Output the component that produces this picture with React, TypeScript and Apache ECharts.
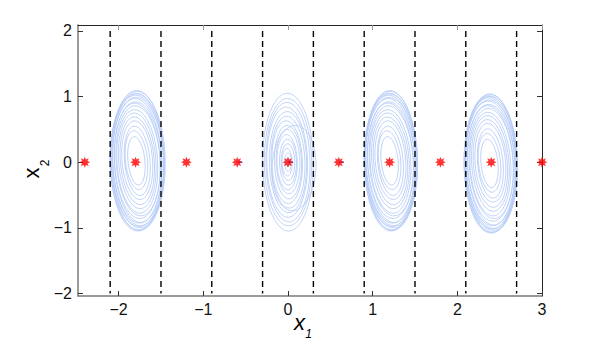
import React, { useEffect, useRef } from 'react';
import * as echarts from 'echarts';

// Axis ranges and ticks
const xRange = [-2.48, 3];
const yRange = [-2.04, 2.09];
const xTicks = [-2, -1, 0, 1, 2, 3];
const yTicks = [-2, -1, 0, 1, 2];

// Equilibrium points (red asterisks)
const equilibriaX = [-2.4, -1.8, -1.2, -0.6, 0, 0.6, 1.2, 1.8, 2.4, 3.0];
const equilibriaY = [0, 0, 0, 0, 0, 0, 0, 0, 0, 0];

// Dashed vertical boundaries
const boundariesX = [-2.1, -1.5, -0.9, -0.3, 0.3, 0.9, 1.5, 2.1, 2.7];
const boundarySpan = [2, -2];

// Trajectory loops: [centerX, centerY, radiusX, radiusY, tilt]
const loopsA = [
  [-1.79, 0.02, 0.10, 0.37, 0.10],
  [-1.79, 0.03, 0.13, 0.45, 0.10],
  [-1.78, 0.02, 0.15, 0.53, 0.09],
  [-1.78, 0.03, 0.18, 0.60, 0.08],
  [-1.78, 0.02, 0.20, 0.67, 0.08],
  [-1.78, 0.02, 0.22, 0.73, 0.07],
  [-1.78, 0.01, 0.24, 0.79, 0.06],
  [-1.77, 0.02, 0.26, 0.84, 0.06],
  [-1.78, 0.02, 0.27, 0.88, 0.05],
  [-1.77, 0.00, 0.28, 0.92, 0.05],
  [-1.78, 0.02, 0.29, 0.95, 0.04],
  [-1.77, 0.01, 0.30, 0.98, 0.04],
  [-1.78, 0.02, 0.31, 1.00, 0.03],
  [-1.77, 0.02, 0.31, 1.02, 0.03],
  [-1.78, 0.01, 0.32, 1.04, 0.02],
  [-1.77, 0.02, 0.32, 1.06, 0.02],
  [-1.78, 0.02, 0.32, 1.07, 0.01],
];
const loopsB = [
  [0.00, 0.00, 0.02, 0.07, 0.0],
  [0.00, 0.00, 0.04, 0.14, 0.0],
  [-0.01, 0.00, 0.06, 0.21, 0.02],
  [0.00, 0.00, 0.08, 0.28, 0.02],
  [0.00, 0.00, 0.10, 0.35, 0.02],
  [-0.01, 0.00, 0.12, 0.42, 0.03],
  [0.00, 0.01, 0.14, 0.49, 0.03],
  [0.00, 0.00, 0.16, 0.56, 0.03],
  [-0.01, 0.00, 0.18, 0.63, 0.03],
  [0.00, 0.00, 0.20, 0.70, 0.03],
  [0.00, 0.00, 0.22, 0.77, 0.02],
  [-0.01, 0.00, 0.24, 0.84, 0.02],
  [0.00, 0.00, 0.26, 0.91, 0.02],
  [0.00, 0.00, 0.28, 0.97, 0.01],
  [0.00, 0.00, 0.30, 1.05, 0.01],
  [0.07, -0.09, 0.26, 0.65, -0.05],
];
const loopsC = [
  [1.20, 0.02, 0.10, 0.37, 0.10],
  [1.20, 0.03, 0.13, 0.45, 0.10],
  [1.21, 0.02, 0.15, 0.53, 0.09],
  [1.21, 0.03, 0.18, 0.60, 0.08],
  [1.21, 0.02, 0.20, 0.67, 0.08],
  [1.21, 0.02, 0.22, 0.73, 0.07],
  [1.21, 0.01, 0.24, 0.79, 0.06],
  [1.22, 0.02, 0.26, 0.84, 0.06],
  [1.21, 0.02, 0.27, 0.88, 0.05],
  [1.22, 0.00, 0.28, 0.92, 0.05],
  [1.21, 0.02, 0.29, 0.95, 0.04],
  [1.22, 0.01, 0.30, 0.98, 0.04],
  [1.21, 0.02, 0.30, 1.00, 0.03],
  [1.22, 0.02, 0.31, 1.02, 0.03],
  [1.21, 0.01, 0.31, 1.04, 0.02],
  [1.22, 0.02, 0.31, 1.06, 0.02],
  [1.21, 0.02, 0.31, 1.07, 0.01],
];
const loopsD = [
  [2.38, -0.02, 0.10, 0.37, 0.10],
  [2.38, -0.01, 0.13, 0.45, 0.10],
  [2.39, -0.02, 0.15, 0.53, 0.09],
  [2.39, -0.01, 0.18, 0.60, 0.08],
  [2.39, -0.02, 0.20, 0.67, 0.08],
  [2.39, -0.02, 0.22, 0.73, 0.07],
  [2.39, -0.03, 0.24, 0.79, 0.06],
  [2.40, -0.02, 0.26, 0.84, 0.06],
  [2.39, -0.02, 0.27, 0.88, 0.05],
  [2.40, -0.04, 0.28, 0.92, 0.05],
  [2.39, -0.02, 0.29, 0.95, 0.04],
  [2.40, -0.03, 0.30, 0.98, 0.04],
  [2.39, -0.02, 0.30, 1.00, 0.03],
  [2.40, -0.02, 0.31, 1.02, 0.03],
  [2.39, -0.03, 0.31, 1.04, 0.02],
  [2.40, -0.02, 0.31, 1.05, 0.02],
  [2.39, -0.02, 0.31, 1.06, 0.01],
];

// Short dark-blue trajectory tails at some equilibria: [fromX, toX] at y = 0
const tails = [
  [-0.6, -0.54],
  [0, 0.06],
  [0.6, 0.66],
];

const ASTERISK =
  'path://M10 0 L5 2.07 L7.07 7.07 L2.07 5 L0 10 L-2.07 5 L-7.07 7.07 L-5 2.07 L-10 0 L-5 -2.07 L-7.07 -7.07 L-2.07 -5 L0 -10 L2.07 -5 L7.07 -7.07 L5 -2.07 Z';

const FONT = 'Liberation Sans, Arial, Helvetica, sans-serif';
const fmt = (v: number) => String(v).replace('-', '\u2212');

export default function App() {
  const ref = useRef<HTMLDivElement>(null);
  useEffect(() => {
    const chart = echarts.init(ref.current!, null, { renderer: 'svg' });

    const loopSeries = (loops: number[][]) => ({
      type: 'custom',
      clip: false,
      z: 1,
      data: loops,
      renderItem: (_p: any, api: any) => {
        const c = api.coord([api.value(0), api.value(1)]);
        const s = api.size([api.value(2), api.value(3)], [api.value(0), api.value(1)]);
        return {
          type: 'ellipse',
          x: c[0],
          y: c[1],
          rotation: api.value(4),
          shape: { cx: 0, cy: 0, rx: s[0], ry: s[1] },
          style: { fill: 'none', stroke: '#b6ccf7', lineWidth: 0.85 },
        };
      },
    });

    const boundarySeries = boundariesX.map((x) => ({
      type: 'line',
      z: 3,
      symbol: 'none',
      silent: true,
      data: boundarySpan.map((y) => [x, y]),
      lineStyle: { color: '#000', width: 1.4, type: [6, 4] },
    }));

    const tailSeries = tails.map((t) => ({
      type: 'line',
      z: 4,
      symbol: 'none',
      silent: true,
      data: t.map((x) => [x, 0]),
      lineStyle: { color: '#2c3ff0', width: 1.3 },
    }));

    const axisCommon = {
      type: 'value',
      splitLine: { show: false },
      axisTick: { show: true, inside: true, length: 5, lineStyle: { color: '#333', width: 1 } },
    };

    chart.setOption({
      animation: false,
      backgroundColor: '#fff',
      grid: { left: 78, right: 57, top: 25, bottom: 47, show: false },
      xAxis: [
        {
          ...axisCommon,
          position: 'bottom',
          min: xRange[0],
          max: xRange[1],
          axisLine: { show: true, onZero: false, lineStyle: { color: '#7a7a7a', width: 1.5 } },
          axisTick: { ...axisCommon.axisTick, customValues: xTicks },
          axisLabel: {
            customValues: xTicks,
            formatter: fmt,
            color: '#111',
            fontSize: 16,
            fontFamily: FONT,
            margin: 5,
          },
        },
        {
          ...axisCommon,
          position: 'top',
          min: xRange[0],
          max: xRange[1],
          axisLine: { show: true, onZero: false, lineStyle: { color: '#262626', width: 1 } },
          axisTick: { ...axisCommon.axisTick, customValues: xTicks, lineStyle: { color: '#999', width: 1 } },
          axisLabel: { show: false },
        },
      ],
      yAxis: [
        {
          ...axisCommon,
          position: 'left',
          min: yRange[0],
          max: yRange[1],
          axisLine: { show: true, onZero: false, lineStyle: { color: '#7a7a7a', width: 1.5 } },
          axisTick: { ...axisCommon.axisTick, customValues: yTicks },
          axisLabel: {
            customValues: yTicks,
            formatter: fmt,
            color: '#111',
            fontSize: 16,
            fontFamily: FONT,
            margin: 6,
          },
        },
        {
          ...axisCommon,
          position: 'right',
          min: yRange[0],
          max: yRange[1],
          axisLine: { show: true, onZero: false, lineStyle: { color: '#262626', width: 1 } },
          axisTick: { ...axisCommon.axisTick, customValues: yTicks },
          axisLabel: { show: false },
        },
      ],
      graphic: [
        { type: 'text', x: 299.5, y: 322, style: { text: 'x', font: `italic 22px ${FONT}`, fill: '#000', align: 'center', verticalAlign: 'middle' } },
        { type: 'text', x: 308.5, y: 334, style: { text: '1', font: `italic 12px ${FONT}`, fill: '#000', align: 'center', verticalAlign: 'middle' } },
        { type: 'text', x: 31.6, y: 173, rotation: Math.PI / 2, style: { text: 'x', font: `22px ${FONT}`, fill: '#000', align: 'center', verticalAlign: 'middle' } },
        { type: 'text', x: 44.5, y: 163, rotation: Math.PI / 2, style: { text: '2', font: `12px ${FONT}`, fill: '#000', align: 'center', verticalAlign: 'middle' } },
      ],
      series: [
        loopSeries(loopsA),
        loopSeries(loopsB),
        loopSeries(loopsC),
        loopSeries(loopsD),
        ...boundarySeries,
        ...tailSeries,
        {
          type: 'scatter',
          z: 5,
          symbol: ASTERISK,
          symbolSize: 11,
          itemStyle: { color: '#ff0000' },
          data: equilibriaX.map((x, i) => [x, equilibriaY[i]]),
        },
      ],
    });
    return () => chart.dispose();
  }, []);
  return (
    <div
      ref={ref}
      style={{ position: 'fixed', left: 0, top: 0, width: 599, height: 343, background: '#fff' }}
    />
  );
}
